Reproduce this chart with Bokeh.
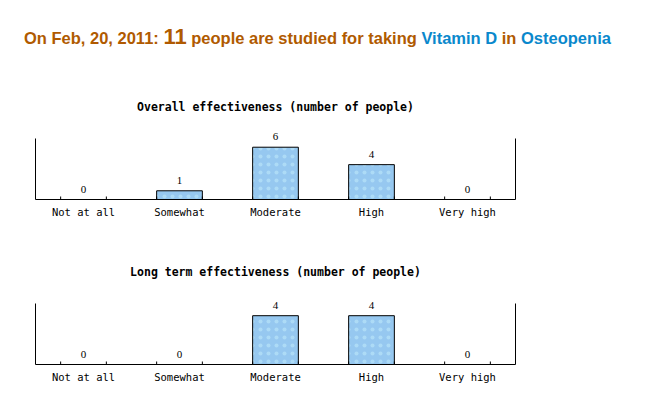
import math
from bokeh.plotting import figure
from bokeh.models import ColumnDataSource, Range1d, FactorRange, LinearAxis, LabelSet, Div, Title
from bokeh.layouts import column
from bokeh.transform import dodge
from bokeh.embed import file_html
from bokeh.resources import INLINE

# ---- data ----
categories = ["Not at all", "Somewhat", "Moderate", "High", "Very high"]
overall_counts = [0, 1, 6, 4, 0]
longterm_counts = [0, 0, 4, 4, 0]
overall_title = "Overall effectiveness (number of people)"
longterm_title = "Long term effectiveness (number of people)"
study_date = "Feb, 20, 2011"
people_count = 11
treatment = "Vitamin D"
condition = "Osteopenia"

# ---- style ----
BROWN = "#b05a00"
BLUE = "#0a88cc"
BAR_FILL = "#96c8f0"
MONO = "DejaVu Sans Mono"
BAR_W = 0.476
AXIS_H = 61      # height of the drawn axis box (px)
HEADROOM = 16    # extra frame space above the axis box for value labels (px)


def bar_chart(title, counts, border_bottom):
    ymax = max(counts) + 1
    frame_h = AXIS_H + HEADROOM
    y_end = ymax * frame_h / AXIS_H
    src = ColumnDataSource(dict(cat=categories, n=counts, lbl=[str(c) for c in counts]))
    p = figure(x_range=FactorRange(*categories), y_range=Range1d(0, y_end),
               frame_width=480, frame_height=frame_h,
               min_border_left=35, min_border_right=130,
               min_border_top=58 - HEADROOM, min_border_bottom=border_bottom,
               toolbar_location=None, tools="", output_backend="svg")
    p.outline_line_color = None
    p.xgrid.grid_line_color = None
    p.ygrid.grid_line_color = None
    p.background_fill_color = "white"

    t = Title(text=title, align="center", text_font=MONO, text_font_size="11.5px",
              text_font_style="bold", text_color="black", standoff=18)
    p.add_layout(t, "above")

    p.vbar(x="cat", top="n", width=BAR_W, source=src, fill_color=BAR_FILL,
           line_color="black", line_width=1,
           hatch_pattern="dot", hatch_color="#d0f8ff", hatch_scale=8, hatch_weight=0.8,
           hatch_alpha=0.4)

    for off in (-BAR_W / 2, BAR_W / 2):
        p.scatter(x=dodge("cat", off, range=p.x_range), y=0, source=src, marker="dash",
                  angle=math.pi / 2, size=6, line_color="black", line_width=1)

    labels = LabelSet(x="cat", y="n", text="lbl", source=src, text_align="center",
                      text_baseline="alphabetic", y_offset=7, text_font=MONO,
                      text_font_size="11px", text_color="black")
    p.add_layout(labels)

    xa = p.xaxis[0]
    xa.axis_line_color = "black"
    xa.major_tick_line_color = None
    xa.minor_tick_line_color = None
    xa.major_tick_out = 0
    xa.major_tick_in = 0
    xa.major_label_text_font = MONO
    xa.major_label_text_font_size = "10.5px"
    xa.major_label_text_color = "black"
    xa.major_label_standoff = 6

    ya = p.yaxis[0]
    ya.bounds = (0, ymax)
    ya.axis_line_color = "black"
    ya.major_tick_line_color = None
    ya.minor_tick_line_color = None
    ya.major_label_text_color = None
    ya.major_label_text_font_size = "1px"
    ya.major_label_standoff = 0

    ra = LinearAxis(axis_line_color="black", major_tick_line_color=None, bounds=(0, ymax),
                    minor_tick_line_color=None, major_label_text_color=None,
                    major_label_text_font_size="1px", major_label_standoff=0)
    p.add_layout(ra, "right")
    return p


header_html = (
    f"<div style=\"font-family:'Liberation Sans',Arial,sans-serif;font-weight:bold;"
    f"font-size:16.5px;line-height:22px;color:{BROWN};padding-left:24px;padding-top:26px;white-space:nowrap\">"
    f"On {study_date}: <span style='font-size:22px'>{people_count}</span> people are studied for taking "
    f"<span style='color:{BLUE}'>{treatment}</span> in "
    f"<span style='color:{BLUE}'>{condition}</span></div>"
)
header = Div(text=header_html, width=645, height=80, margin=0)

p1 = bar_chart(overall_title, overall_counts, 46)
p2 = bar_chart(longterm_title, longterm_counts, 25)

layout = column(header, p1, p2, spacing=0)

open("out.html", "w").write(file_html(layout, INLINE))
